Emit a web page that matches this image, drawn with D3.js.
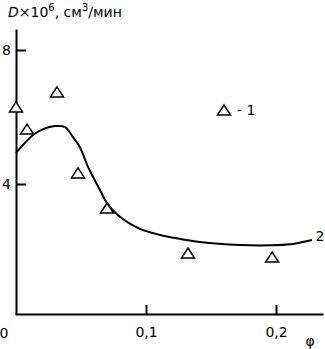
<!DOCTYPE html>
<html>
<head>
<meta charset="utf-8">
<script src="https://cdn.jsdelivr.net/npm/d3@7"></script>
<style>
  body { margin: 0; background: #fff; }
  svg { display: block; }
  text { font-family: "DejaVu Sans", Verdana, sans-serif; fill: #000; }
</style>
</head>
<body>
<div id="chart"></div>
<script>
// measured points (series 1, triangles)
var phiPoints = [0, 0.0085, 0.0315, 0.0477, 0.070, 0.1323, 0.197];
var dPoints   = [6.30, 5.64, 6.75, 4.33, 3.28, 1.94, 1.82];

// fitted curve (series 2)
var phiCurve = [0, 0.0131, 0.0208, 0.030, 0.0377, 0.0438, 0.0492, 0.0554, 0.0646, 0.070, 0.0785, 0.0954, 0.1108, 0.125, 0.1415, 0.1723, 0.195, 0.211, 0.2277];
var dCurve   = [4.93, 5.46, 5.64, 5.73, 5.70, 5.40, 5.10, 4.51, 3.82, 3.43, 3.07, 2.66, 2.48, 2.37, 2.27, 2.18, 2.17, 2.20, 2.33];

var xTicks = [0.1, 0.2];
var yTicks = [4, 8];

var width = 325, height = 349;

var svg = d3.select("#chart").append("svg")
    .attr("width", width)
    .attr("height", height);

// scales: 0 -> 16px, 0.1 -> 146px ; 4 -> 184px, 8 -> 50px
var x = d3.scaleLinear().domain([-1 / 1300, 307 / 1300]).range([15, 323]);
var y = d3.scaleLinear().domain([4 / 33.5, 289 / 33.5]).range([314, 29]);

function fmt(d) { return d3.format(".1f")(d).replace(".", ","); }

// y axis, ticks pointing inward
var gy = svg.append("g")
    .attr("transform", "translate(" + x(0) + ",0)")
    .call(d3.axisLeft(y).tickValues(yTicks).tickSizeInner(-10).tickSizeOuter(0).tickPadding(5).tickFormat(d3.format("d")));

// x axis
var gx = svg.append("g")
    .attr("transform", "translate(0," + y.range()[0] + ")")
    .call(d3.axisBottom(x).tickValues(xTicks).tickSizeInner(-9).tickSizeOuter(0).tickPadding(13).tickFormat(fmt));

svg.selectAll(".domain, .tick line")
    .attr("stroke", "#000")
    .attr("stroke-width", 2);
svg.selectAll(".tick text")
    .style("font-size", "14px")
    .style("font-family", "DejaVu Sans, sans-serif");

// origin label and axis name
svg.append("text")
    .attr("x", 4).attr("y", 338)
    .attr("text-anchor", "middle")
    .style("font-size", "14px")
    .text("0");

svg.append("text")
    .attr("x", 310).attr("y", 346)
    .attr("text-anchor", "middle")
    .style("font-size", "14px")
    .text("φ");

var title = svg.append("text")
    .attr("x", 8).attr("y", 17)
    .style("font-size", "14px");
title.append("tspan").style("font-style", "italic").text("D");
title.append("tspan").text("×10");
title.append("tspan").attr("dy", -6).style("font-size", "10px").text("6");
title.append("tspan").attr("dy", 6).text(", см");
title.append("tspan").attr("dy", -6).style("font-size", "10px").text("3");
title.append("tspan").attr("dy", 6).text("/мин");

// curve
var curveData = phiCurve.map(function (p, i) { return [p, dCurve[i]]; });
var line = d3.line()
    .x(function (d) { return x(d[0]); })
    .y(function (d) { return y(d[1]); })
    .curve(d3.curveCatmullRom.alpha(0.5));

svg.append("path")
    .datum(curveData)
    .attr("d", line)
    .attr("fill", "none")
    .attr("stroke", "#000")
    .attr("stroke-width", 2);

svg.append("text")
    .attr("x", 320).attr("y", 241)
    .attr("text-anchor", "middle")
    .style("font-size", "14px")
    .text("2");

// triangles
var tri = "M0,-5L6.5,5L-6.5,5Z";
var pts = phiPoints.map(function (p, i) { return [p, dPoints[i]]; });

svg.selectAll("path.tri")
    .data(pts)
    .enter().append("path")
    .attr("class", "tri")
    .attr("d", tri)
    .attr("transform", function (d) { return "translate(" + x(d[0]) + "," + y(d[1]) + ")"; })
    .attr("fill", "#fff")
    .attr("stroke", "#000")
    .attr("stroke-width", 1.5);

// legend
svg.append("path")
    .attr("d", tri)
    .attr("transform", "translate(224,110)")
    .attr("fill", "#fff")
    .attr("stroke", "#000")
    .attr("stroke-width", 1.5);
svg.append("text")
    .attr("x", 237).attr("y", 115)
    .style("font-size", "14px")
    .text("- 1");
</script>
</body>
</html>
